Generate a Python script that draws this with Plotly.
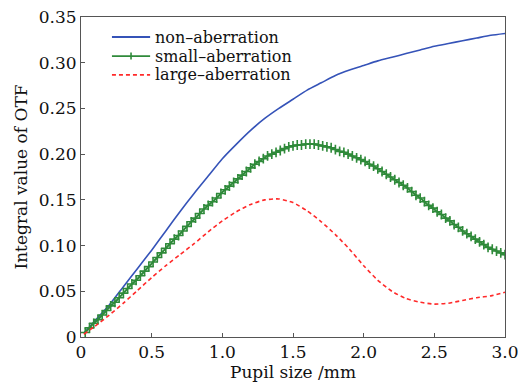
import plotly.graph_objects as go

# ---- data ----
x_coarse = [0.02, 0.1, 0.2, 0.3, 0.4, 0.5, 0.6, 0.7, 0.8, 0.9, 1.0, 1.1, 1.2, 1.3, 1.4, 1.5,
            1.6, 1.7, 1.8, 1.9, 2.0, 2.1, 2.2, 2.3, 2.4, 2.5, 2.6, 2.7, 2.8, 2.9, 3.0]

non_aberration = [0.004, 0.018, 0.035, 0.055, 0.075, 0.095, 0.116, 0.137, 0.157, 0.176, 0.195,
                  0.211, 0.226, 0.239, 0.250, 0.260, 0.270, 0.278, 0.286, 0.292, 0.297, 0.302,
                  0.306, 0.310, 0.314, 0.318, 0.321, 0.324, 0.327, 0.330, 0.332]

large_aberration = [0.003, 0.012, 0.024, 0.037, 0.051, 0.065, 0.078, 0.090, 0.102, 0.115, 0.127,
                    0.137, 0.145, 0.150, 0.151, 0.147, 0.138, 0.126, 0.112, 0.096, 0.078, 0.062,
                    0.050, 0.042, 0.038, 0.036, 0.037, 0.040, 0.043, 0.045, 0.049]

x_fine = [round(0.03 * i, 2) for i in range(1, 101)]

small_aberration = [
    0.005, 0.010, 0.015, 0.019, 0.024, 0.029, 0.034, 0.038, 0.043, 0.048,
    0.053, 0.058, 0.062, 0.067, 0.072, 0.077, 0.082, 0.087, 0.092, 0.097,
    0.102, 0.107, 0.111, 0.116, 0.121, 0.126, 0.130, 0.135, 0.140, 0.144,
    0.148, 0.152, 0.157, 0.161, 0.165, 0.169, 0.173, 0.177, 0.181, 0.185,
    0.189, 0.192, 0.195, 0.198, 0.200, 0.202, 0.204, 0.206, 0.208, 0.209,
    0.210, 0.210, 0.211, 0.211, 0.211, 0.210, 0.209, 0.208, 0.207, 0.205,
    0.203, 0.202, 0.200, 0.198, 0.196, 0.194, 0.192, 0.189, 0.187, 0.184,
    0.181, 0.178, 0.175, 0.172, 0.169, 0.166, 0.163, 0.159, 0.155, 0.152,
    0.148, 0.144, 0.141, 0.137, 0.134, 0.130, 0.127, 0.123, 0.120, 0.116,
    0.113, 0.110, 0.107, 0.104, 0.101, 0.098, 0.096, 0.094, 0.092, 0.090]

x_tickvals = [0, 0.5, 1.0, 1.5, 2.0, 2.5, 3.0]
x_ticktext = ["0", "0.5", "1.0", "1.5", "2.0", "2.5", "3.0"]
y_tickvals = [0, 0.05, 0.10, 0.15, 0.20, 0.25, 0.30, 0.35]
y_ticktext = ["0", "0.05", "0.10", "0.15", "0.20", "0.25", "0.30", "0.35"]

series_names = ["non\u2013aberration", "small\u2013aberration", "large\u2013aberration"]
BLUE, GREEN, RED = "#3553b8", "#2f8a3a", "#ff2a2a"

FONT = "DejaVu Serif"
TXT = "#111111"

fig = go.Figure()
fig.add_trace(go.Scatter(
    x=x_coarse, y=non_aberration, mode="lines", name=series_names[0],
    line=dict(color=BLUE, width=1.6, shape="spline", smoothing=0.6)))
fig.add_trace(go.Scatter(
    x=x_fine, y=small_aberration, mode="lines+markers", name=series_names[1],
    line=dict(color=GREEN, width=2, shape="spline", smoothing=0.6),
    marker=dict(symbol="cross-thin", size=7, line=dict(color=GREEN, width=1.6))))
fig.add_trace(go.Scatter(
    x=x_coarse, y=large_aberration, mode="lines", name=series_names[2],
    line=dict(color=RED, width=1.6, dash="4px,3px", shape="spline", smoothing=0.6)))

axis_common = dict(
    showline=True, linecolor="#555555", linewidth=1, mirror=True,
    ticks="inside", ticklen=4, tickcolor="#555555", tickwidth=1,
    showgrid=False, zeroline=False, automargin=False,
    ticklabeloverflow="allow",
    tickfont=dict(family=FONT, size=17, color=TXT),
)

fig.update_xaxes(range=[0, 3.0], tickvals=x_tickvals, ticktext=x_ticktext,
                 title=dict(text="Pupil size /mm", font=dict(family=FONT, size=17, color=TXT),
                            standoff=2),
                 **axis_common)
fig.update_yaxes(range=[0, 0.35], tickvals=y_tickvals, ticktext=y_ticktext,
                 title=dict(text="Integral value of OTF", font=dict(family=FONT, size=17, color=TXT),
                            standoff=6),
                 **axis_common)

# custom compact legend (keys in paper coordinates of the plot area)
row_y = [0.9375, 0.878, 0.819]
key_x0, key_x1, text_x = 0.073, 0.163, 0.170
key_styles = [dict(color=BLUE, width=1.8),
              dict(color=GREEN, width=1.8),
              dict(color=RED, width=1.8, dash="4px,3px")]
shapes = []
annotations = []
for name, yy, st in zip(series_names, row_y, key_styles):
    shapes.append(dict(type="line", xref="paper", yref="paper",
                       x0=key_x0, x1=key_x1, y0=yy, y1=yy, line=st))
    annotations.append(dict(text=name, xref="paper", yref="paper", x=text_x, y=yy,
                            xanchor="left", yanchor="middle", showarrow=False,
                            font=dict(family=FONT, size=16, color=TXT)))
# cross marker on the green key
mid = (key_x0 + key_x1) / 2
shapes.append(dict(type="line", xref="paper", yref="paper",
                   x0=mid, x1=mid, y0=row_y[1] - 0.011, y1=row_y[1] + 0.011,
                   line=dict(color=GREEN, width=1.6)))

fig.update_layout(
    width=518, height=384,
    margin=dict(l=81, r=13, t=17, b=47),
    plot_bgcolor="white", paper_bgcolor="white",
    font=dict(family=FONT, size=17, color=TXT),
    showlegend=False,
    shapes=shapes,
    annotations=annotations,
)

# remove the default page margin so the 518x384 figure fills the window exactly
fig.write_html("out.html",
               config=dict(displayModeBar=False),
               post_script="document.body.style.margin='0px';"
                           "document.body.style.overflow='hidden';")
